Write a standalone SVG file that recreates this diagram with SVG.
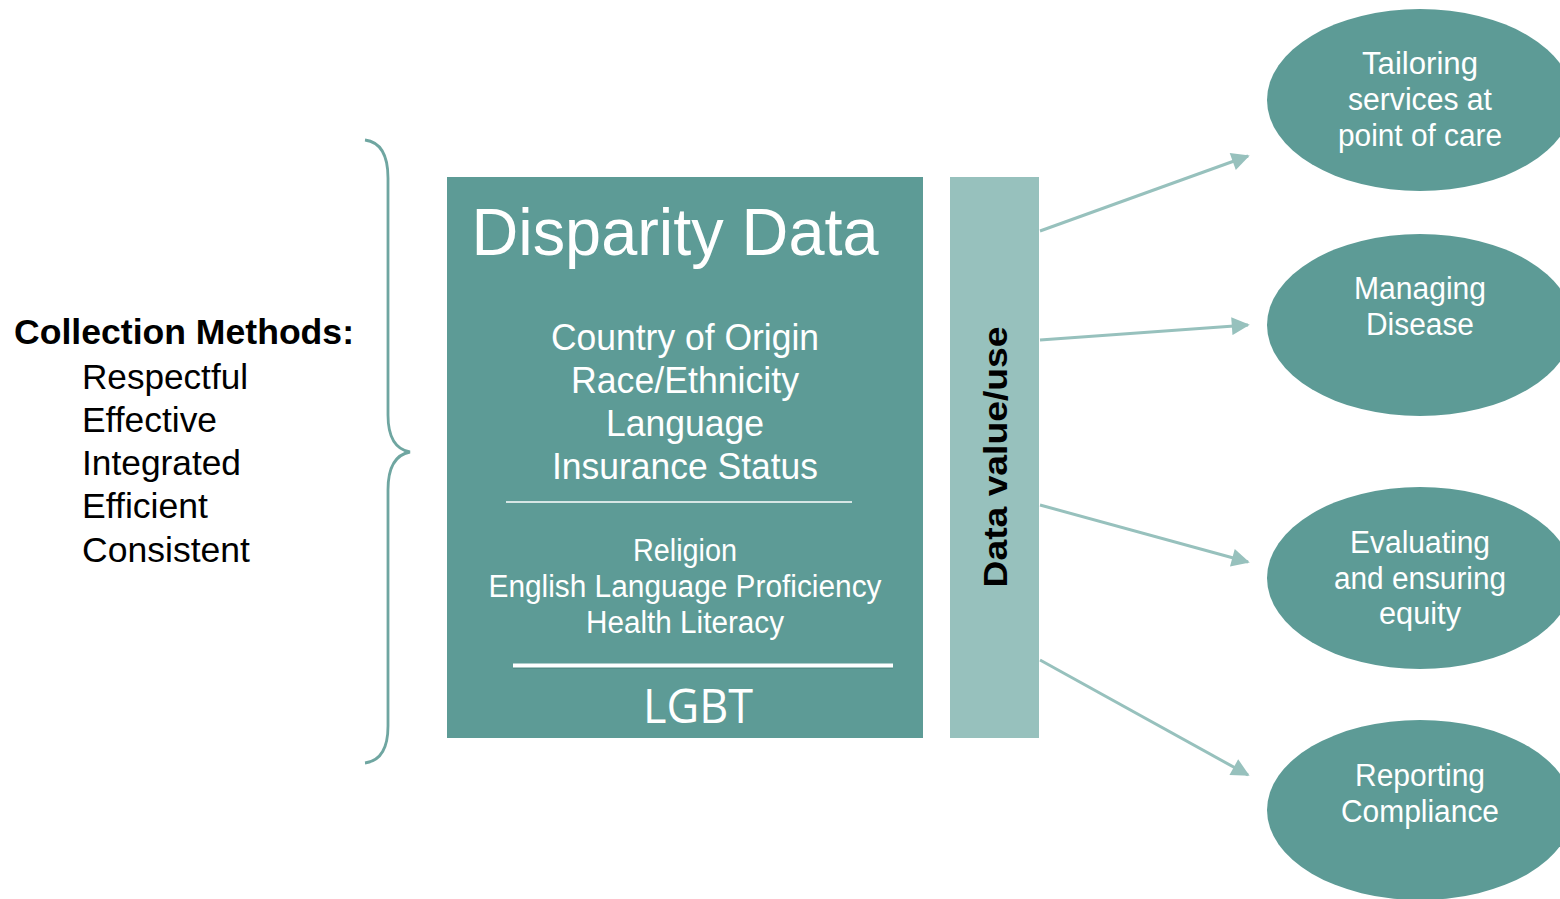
<svg xmlns="http://www.w3.org/2000/svg" width="1560" height="899" viewBox="0 0 1560 899">
  <style>
    .w { fill: #ffffff; font-family: "Liberation Sans", Arial, sans-serif; text-anchor: middle; }
    .k { fill: #000000; font-family: "Liberation Sans", Arial, sans-serif; }
    .node { fill: #5d9b96; }
    .link { stroke: #97c1bd; stroke-width: 3; fill: none; marker-end: url(#head); }
  </style>
  <defs>
    <marker id="head" viewBox="0 0 10 10" refX="9" refY="5" markerWidth="7" markerHeight="6" markerUnits="strokeWidth" orient="auto">
      <path d="M0,0 L10,5 L0,10 z" fill="#97c1bd"/>
    </marker>
  </defs>
  <rect width="1560" height="899" fill="#ffffff"/>

  <!-- collection methods list -->
  <g id="methods">
    <text class="k" x="14" y="344" font-size="35" font-weight="bold" textLength="340" lengthAdjust="spacingAndGlyphs">Collection Methods:</text>
    <text class="k" x="82" y="389" font-size="35" textLength="166" lengthAdjust="spacingAndGlyphs">Respectful</text>
    <text class="k" x="82" y="432" font-size="35" textLength="135" lengthAdjust="spacingAndGlyphs">Effective</text>
    <text class="k" x="82" y="475" font-size="35" textLength="159" lengthAdjust="spacingAndGlyphs">Integrated</text>
    <text class="k" x="82" y="518" font-size="35" textLength="126" lengthAdjust="spacingAndGlyphs">Efficient</text>
    <text class="k" x="82" y="562" font-size="35" textLength="168" lengthAdjust="spacingAndGlyphs">Consistent</text>
  </g>

  <!-- curly brace -->
  <g id="brace">
    <path d="M365,140 Q388,143 388,178 L388,415 Q388,448 410,452 Q388,456 388,490 L388,726 Q388,760 365,763" fill="none" stroke="#6fa6a1" stroke-width="2.8"/>
  </g>

  <!-- central data box -->
  <g id="disparity-data">
    <rect class="node" x="447" y="177" width="476" height="561"/>
    <text class="w" x="675" y="255" font-size="67" textLength="407" lengthAdjust="spacingAndGlyphs">Disparity Data</text>
    <text class="w" x="685" y="350" font-size="37" textLength="268" lengthAdjust="spacingAndGlyphs">Country of Origin</text>
    <text class="w" x="685" y="393" font-size="37" textLength="228" lengthAdjust="spacingAndGlyphs">Race/Ethnicity</text>
    <text class="w" x="685" y="436" font-size="37" textLength="158" lengthAdjust="spacingAndGlyphs">Language</text>
    <text class="w" x="685" y="479" font-size="37" textLength="266" lengthAdjust="spacingAndGlyphs">Insurance Status</text>
    <line x1="506" y1="502" x2="852" y2="502" stroke="#ffffff" stroke-width="1.5"/>
    <text class="w" x="685" y="561" font-size="31" textLength="104" lengthAdjust="spacingAndGlyphs">Religion</text>
    <text class="w" x="685" y="597" font-size="31" textLength="393" lengthAdjust="spacingAndGlyphs">English Language Proficiency</text>
    <text class="w" x="685" y="633" font-size="31" textLength="198" lengthAdjust="spacingAndGlyphs">Health Literacy</text>
    <line x1="513" y1="667" x2="893" y2="667" stroke="#4a7f7a" stroke-width="4" opacity="0.5"/>
    <line x1="513" y1="665.5" x2="893" y2="665.5" stroke="#ffffff" stroke-width="4"/>
    <text class="w" x="698" y="723" font-size="47" style="font-family:'Open Sans',sans-serif" textLength="110" lengthAdjust="spacingAndGlyphs">LGBT</text>
  </g>

  <!-- value/use bar -->
  <g id="data-value-use">
    <rect x="950" y="177" width="89" height="561" fill="#97c1bd"/>
    <text class="k" transform="translate(1007,457) rotate(-90)" font-size="34" font-weight="bold" text-anchor="middle" textLength="261" lengthAdjust="spacingAndGlyphs">Data value/use</text>
  </g>

  <!-- connectors -->
  <g id="connectors">
    <path class="link" d="M1040,231 L1248,156"/>
    <path class="link" d="M1040,340 L1248,325"/>
    <path class="link" d="M1040,505 L1248,562"/>
    <path class="link" d="M1040,660 L1248,775"/>
  </g>

  <!-- outcome ellipses -->
  <g id="tailoring">
    <ellipse class="node" cx="1420" cy="100" rx="153" ry="91"/>
    <text class="w" x="1420" y="74" font-size="31" textLength="116" lengthAdjust="spacingAndGlyphs">Tailoring</text>
    <text class="w" x="1420" y="110" font-size="31" textLength="144" lengthAdjust="spacingAndGlyphs">services at</text>
    <text class="w" x="1420" y="146" font-size="31" textLength="164" lengthAdjust="spacingAndGlyphs">point of care</text>
  </g>
  <g id="managing">
    <ellipse class="node" cx="1420" cy="325" rx="153" ry="91"/>
    <text class="w" x="1420" y="299" font-size="31" textLength="132" lengthAdjust="spacingAndGlyphs">Managing</text>
    <text class="w" x="1420" y="335" font-size="31" textLength="108" lengthAdjust="spacingAndGlyphs">Disease</text>
  </g>
  <g id="evaluating">
    <ellipse class="node" cx="1420" cy="578" rx="153" ry="91"/>
    <text class="w" x="1420" y="553" font-size="31" textLength="140" lengthAdjust="spacingAndGlyphs">Evaluating</text>
    <text class="w" x="1420" y="589" font-size="31" textLength="172" lengthAdjust="spacingAndGlyphs">and ensuring</text>
    <text class="w" x="1420" y="624" font-size="31" textLength="82" lengthAdjust="spacingAndGlyphs">equity</text>
  </g>
  <g id="reporting">
    <ellipse class="node" cx="1420" cy="810" rx="153" ry="90"/>
    <text class="w" x="1420" y="786" font-size="31" textLength="130" lengthAdjust="spacingAndGlyphs">Reporting</text>
    <text class="w" x="1420" y="822" font-size="31" textLength="158" lengthAdjust="spacingAndGlyphs">Compliance</text>
  </g>
</svg>
